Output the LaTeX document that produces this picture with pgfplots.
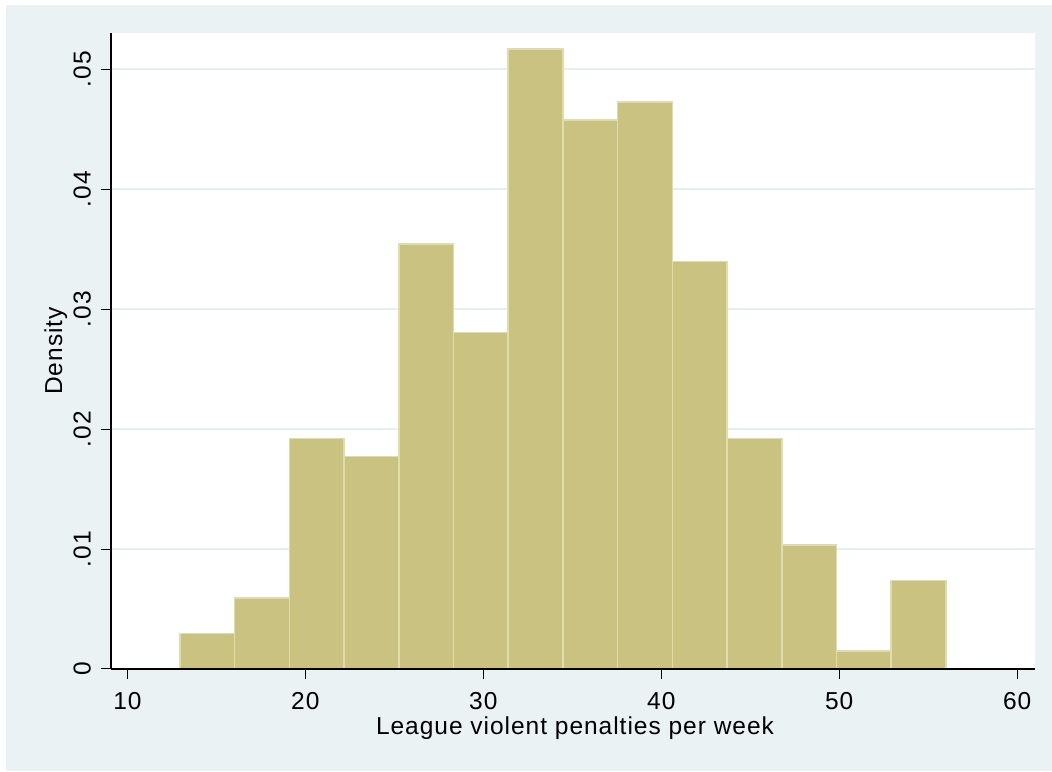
\documentclass[border=0pt]{standalone}
\usepackage{pgfplots}
\pgfplotsset{compat=1.18}
\usepackage{fontspec}
\setmainfont{Liberation Sans}
\newfontfamily\lblfont[LetterSpace=4]{Liberation Sans}

\definecolor{bgblue}{RGB}{234,242,243}
\definecolor{gridc}{RGB}{231,239,241}
\definecolor{barfill}{RGB}{201,194,128}
\definecolor{baredge}{RGB}{224,220,172}

% histogram: left bin edges and densities (last row closes the final bin)
\pgfplotstableread{
x      y
12.96  0.00295
16.03  0.00591
19.11  0.01920
22.18  0.01772
25.26  0.03545
28.33  0.02806
31.40  0.05170
34.48  0.04579
37.55  0.04726
40.63  0.03397
43.70  0.01920
46.77  0.01034
49.85  0.00148
52.92  0.00739
56.00  0.00739
}\histdata

\begin{document}
\begin{tikzpicture}
\useasboundingbox (0pt,0pt) rectangle (1052pt,771pt);
\fill[white] (0pt,0pt) rectangle (1052pt,771pt);
\fill[bgblue] (6pt,0pt) rectangle (1052pt,766pt);
\begin{axis}[
  at={(111pt,102pt)}, anchor=south west,
  scale only axis, width=924pt, height=636pt,
  xmin=9.08, xmax=61.0, ymin=0, ymax=0.05303,
  axis x line=bottom, axis y line=left,
  axis line style={-, black, line width=1.3pt},
  axis background/.style={fill=white},
  xtick={10,20,30,40,50,60},
  ytick={0,0.01,0.02,0.03,0.04,0.05},
  yticklabels={0,.01,.02,.03,.04,.05},
  scaled y ticks=false,
  tick align=outside, major tick length=10pt,
  tick style={black, line width=1pt},
  ymajorgrids, grid style={gridc, line width=2pt},
  /pgf/number format/assume math mode=true,
  tick label style={font=\fontsize{24.5}{28}\lblfont},
  xticklabel style={anchor=north, inner sep=0pt},
  xticklabel shift=13pt,
  yticklabel style={rotate=90, anchor=south, inner sep=0pt},
  yticklabel shift=10pt,
]
\addplot[ybar interval, fill=barfill, draw=baredge, line width=1.5pt]
  table[x=x, y=y] {\histdata};
% redraw the frame lines over the bars
\draw[black, line width=1.3pt] (rel axis cs:0,0) -- (rel axis cs:1,0);
\draw[black, line width=1.3pt] (rel axis cs:0,0) -- (rel axis cs:0,1);
\end{axis}
\node[rotate=90, anchor=base, font=\fontsize{24.5}{28}\lblfont] at (62pt,420pt) {Density};
\node[anchor=base, font=\fontsize{24.5}{28}\lblfont] at (575pt,36pt) {League violent penalties per week};
\end{tikzpicture}
\end{document}
